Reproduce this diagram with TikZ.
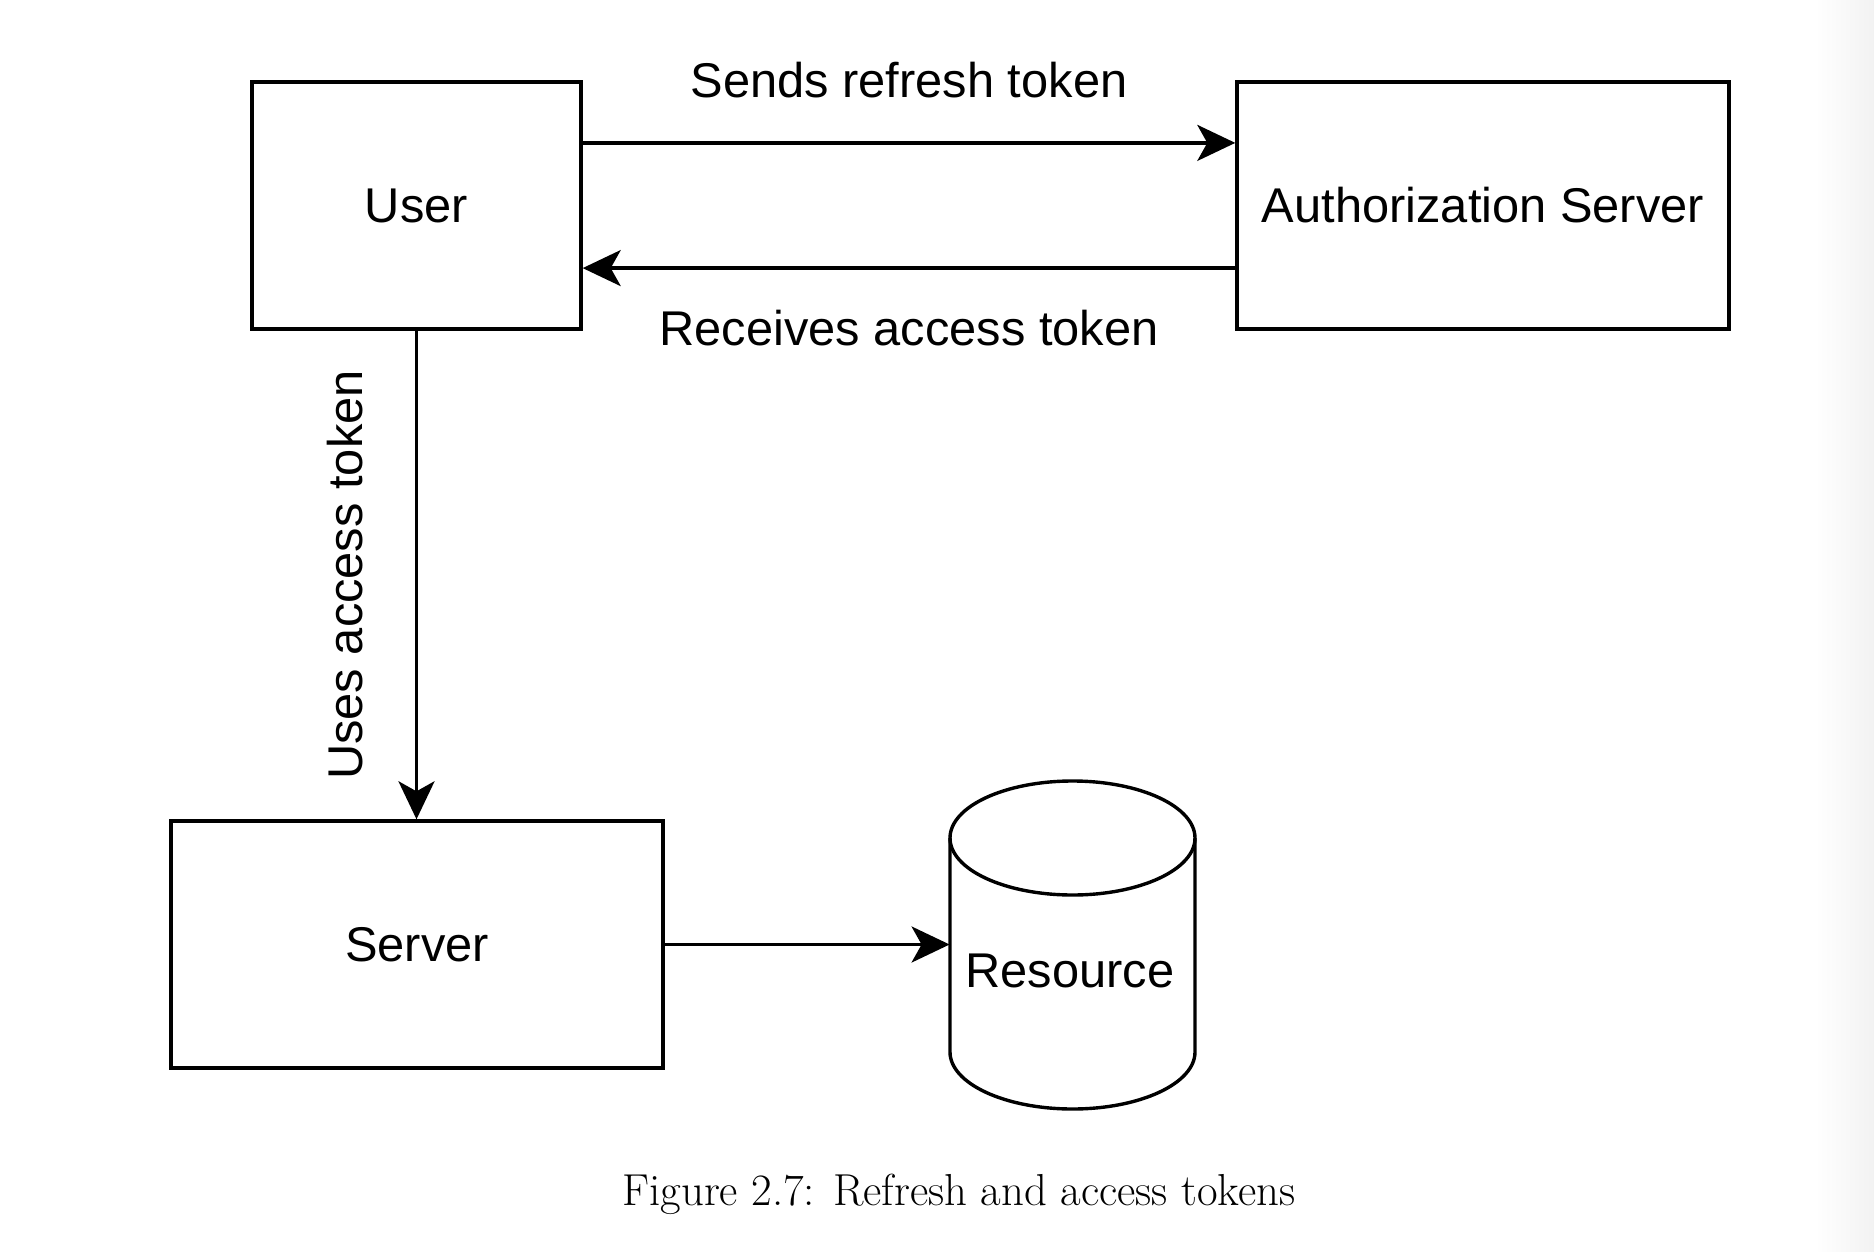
\documentclass[tikz,border=0pt]{standalone}
\usepackage{fontspec}
\setsansfont{Liberation Sans}
\usetikzlibrary{arrows.meta,calc}
\begin{document}
\begin{tikzpicture}[x=0.5pt,y=-0.5pt,
  lbl/.style={font=\sffamily\fontsize{24.4}{29}\selectfont, inner sep=0pt},
  box/.style={draw, line width=1.7pt, lbl},
  conn/.style={line width=1.7pt, -{Stealth[length=19pt,width=18pt,inset=5pt]}},
  captext/.style={font=\rmfamily\fontsize{22.4}{27}\selectfont, inner sep=0pt}]
\useasboundingbox (0,0) rectangle (1874,1252);
\fill[white] (0,0) rectangle (1874,1252);
\shade[left color=white, right color=black!5] (1815,0) rectangle (1874,1252);

\node[box, minimum width=164.5pt, minimum height=123.5pt] (user) at (416.5,205.5) {User};
\node[box, minimum width=246pt, minimum height=123.5pt] (auth) at (1483,205.5) {Authorization Server};
\node[box, minimum width=246pt, minimum height=123.5pt] (server) at (417,944.5) {Server};

% cylinder
\node[minimum width=122.5pt, minimum height=164.5pt, inner sep=0pt] (res) at (1072.5,944.5) {};
\draw[line width=1.7pt] (950,838) -- (950,1052)
  arc[start angle=180, end angle=360, x radius=61.25pt, y radius=28.5pt] -- (1195,838);
\draw[line width=1.7pt] (1072.5,838) ellipse [x radius=61.25pt, y radius=28.5pt];
\node[lbl] (reslbl) at (1070,971) {Resource};

\draw[conn] ($(user.north east)!0.25!(user.south east)$) -- ($(auth.north west)!0.25!(auth.south west)$)
  node[lbl, midway, anchor=base, yshift=22.5pt] (sendlbl) {Sends refresh token};
\draw[conn] ($(auth.north west)!0.75!(auth.south west)$) -- ($(user.north east)!0.75!(user.south east)$)
  node[lbl, midway, anchor=base, yshift=-38.5pt] (recvlbl) {Receives access token};
\draw[conn] (user.south) -- (user.south |- server.north)
  node[lbl, midway, xshift=-35.5pt, rotate=90] (useslbl) {Uses access token};
\draw[conn] (server.east) -- (res.west);

\node[captext, anchor=base] (caption) at (959,1205) {Figure 2.7: Refresh and access tokens};
\end{tikzpicture}
\end{document}
